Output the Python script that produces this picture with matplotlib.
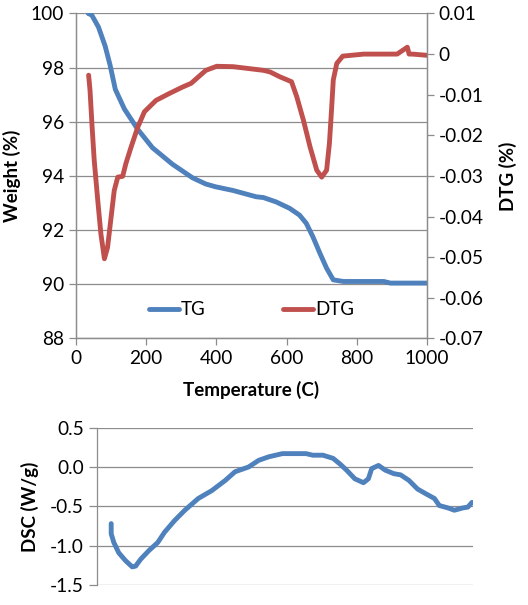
import matplotlib
matplotlib.use("Agg")
import matplotlib.pyplot as plt

plt.rcParams['font.family'] = ['Lato', 'DejaVu Sans']
plt.rcParams['axes.unicode_minus'] = False

# TG curve (weight %, left axis)
tg_temp = [35, 45, 64, 83, 97, 112, 138, 176, 218, 275, 332, 370, 397, 448, 513,
           534, 570, 609, 637, 656, 675, 695, 714, 733, 762, 877, 896, 1000]
tg_weight = [100.0, 99.94, 99.5, 98.8, 98.1, 97.2, 96.47, 95.72, 95.04, 94.43, 93.93,
             93.7, 93.6, 93.46, 93.23, 93.2, 93.04, 92.8, 92.55, 92.25, 91.75, 91.14,
             90.59, 90.16, 90.1, 90.1, 90.04, 90.04]

# DTG curve (right axis)
dtg_temp = [36, 40, 46, 52, 62, 71, 81, 90, 100, 109, 119, 133, 142, 157, 176, 195,
            228, 266, 304, 328, 370, 401, 448, 534, 553, 581, 614, 629, 648, 667,
            686, 700, 714, 722, 728, 733, 743, 760, 820, 915, 944, 949, 958, 1000]
dtg_value = [-0.0052, -0.0089, -0.018, -0.0262, -0.036, -0.0443, -0.0504, -0.0476,
             -0.0402, -0.0336, -0.0303, -0.0301, -0.027, -0.0229, -0.018, -0.0142,
             -0.0114, -0.0097, -0.0081, -0.0072, -0.004, -0.003, -0.0031, -0.004,
             -0.0044, -0.0056, -0.0068, -0.0105, -0.0163, -0.0229, -0.0286, -0.0303,
             -0.0286, -0.022, -0.0138, -0.0064, -0.0023, -0.0005, 0.0, 0.0, 0.0017,
             0.0, 0.0, -0.0003]

# DSC curve (bottom panel)
dsc_temp = [37, 37, 44, 57, 75, 93, 102, 116, 138, 161, 179, 206, 233, 269, 305,
            341, 367, 403, 430, 457, 493, 529, 556, 574, 601, 628, 646, 664, 686,
            709, 722, 731, 749, 767, 790, 808, 830, 853, 875, 898, 911, 934, 951,
            974, 987, 998]
dsc_value = [-0.72, -0.85, -0.96, -1.09, -1.19, -1.27, -1.26, -1.17, -1.06, -0.96,
             -0.83, -0.68, -0.55, -0.40, -0.30, -0.17, -0.06, 0.0, 0.085, 0.13, 0.17,
             0.17, 0.17, 0.15, 0.15, 0.11, 0.04, -0.04, -0.15, -0.20, -0.15, -0.02,
             0.02, -0.04, -0.085, -0.10, -0.17, -0.28, -0.34, -0.40, -0.49, -0.52,
             -0.55, -0.52, -0.51, -0.45]

x_ticks = [0, 200, 400, 600, 800, 1000]
w_ticks = [88, 90, 92, 94, 96, 98, 100]
dtg_ticks = [-0.07, -0.06, -0.05, -0.04, -0.03, -0.02, -0.01, 0.0, 0.01]
dtg_labels = ['-0.07', '-0.06', '-0.05', '-0.04', '-0.03', '-0.02', '-0.01', '0', '0.01']
dsc_ticks = [-1.5, -1.0, -0.5, 0.0, 0.5]
dsc_labels = ['-1.5', '-1.0', '-0.5', '0.0', '0.5']

blue = '#4F81BD'
red = '#C0504D'
grey = '#8C8C8C'

fig = plt.figure(figsize=(5.28, 6.05), dpi=100)

# ---- top panel: TG / DTG ----
ax = fig.add_axes([0.1439, 0.4408, 0.6648, 0.5369])
ax2 = ax.twinx()

ax.plot(tg_temp, tg_weight, color=blue, lw=3.5, solid_capstyle='round', label='TG')
ax2.plot(dtg_temp, dtg_value, color=red, lw=3.5, solid_capstyle='round', label='DTG')

ax.set_xlim(0, 1000)
ax.set_ylim(88, 100)
ax2.set_ylim(-0.07, 0.01)
ax.set_xticks(x_ticks)
ax.set_yticks(w_ticks)
ax2.set_yticks(dtg_ticks)
ax2.set_yticklabels(dtg_labels)

ax.grid(axis='y', color=grey, lw=0.9)
ax.set_axisbelow(True)
for a in (ax, ax2):
    a.spines['top'].set_visible(False)
    for s in ('left', 'right', 'bottom'):
        a.spines[s].set_color(grey)
        a.spines[s].set_linewidth(0.9)
    a.tick_params(colors=grey, labelcolor='black', labelsize=13.8, length=5, width=0.9)

ax.set_xlabel('Temperature (C)', fontsize=13.5, fontweight='bold', labelpad=10)
ax.set_ylabel('Weight (%)', fontsize=13.5, fontweight='bold', labelpad=7)
ax2.set_ylabel('DTG (%)', fontsize=13.5, fontweight='bold', labelpad=11)

h1, l1 = ax.get_legend_handles_labels()
h2, l2 = ax2.get_legend_handles_labels()
ax2.legend(h1 + h2, l1 + l2, loc='center', bbox_to_anchor=(0.5, 0.088), ncol=2,
           frameon=False, fontsize=13.5, handlelength=1.6, handletextpad=0.12,
           columnspacing=4.1)

# ---- bottom panel: DSC ----
bx = fig.add_axes([0.1843, 0.0331, 0.711, 0.26])
bx.plot(dsc_temp, dsc_value, color=blue, lw=3.5, solid_capstyle='round')
bx.set_xlim(0, 1000)
bx.set_ylim(-1.5, 0.5)
bx.set_yticks(dsc_ticks)
bx.set_yticklabels(dsc_labels)
bx.set_xticks([])
bx.grid(axis='y', color=grey, lw=0.9)
bx.set_axisbelow(True)
for s in ('top', 'right', 'bottom'):
    bx.spines[s].set_visible(False)
bx.spines['left'].set_color(grey)
bx.spines['left'].set_linewidth(0.9)
bx.tick_params(axis='y', colors=grey, labelcolor='black', labelsize=13.8, length=6, width=0.9)
bx.set_ylabel('DSC (W/g)', fontsize=13.5, fontweight='bold', labelpad=8)

fig.savefig('out.png', dpi=100)
